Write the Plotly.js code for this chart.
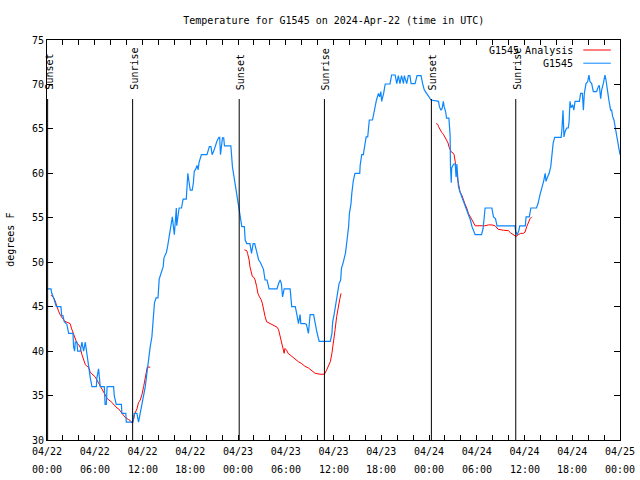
<!DOCTYPE html>
<html>
<head>
<meta charset="utf-8">
<script src="https://cdn.plot.ly/plotly-3.0.1.min.js"></script>
<style>html,body{margin:0;padding:0;background:#fff;}#chart{width:640px;height:480px;}</style>
</head>
<body>
<div id="chart"></div>
<script>
// Hours since 2024-04-22 00:00 UTC
const blueT = [0.0,0.5,0.6,0.83,1.17,1.75,1.85,2.0,2.17,2.5,2.72,3.26,3.34,3.47,3.55,3.76,3.85,4.18,4.39,4.6,4.81,5.02,5.23,5.44,5.65,6.2,6.27,6.48,6.69,7.2,7.3,7.45,7.55,8.37,8.45,8.7,9.35,9.41,9.9,9.96,10.8,10.96,11.15,11.3,11.5,11.72,11.93,12.14,12.35,12.55,12.76,12.97,13.18,13.3,13.5,13.7,13.95,14.1,14.3,14.6,14.7,15.0,15.15,15.3,15.5,15.65,15.75,16.0,16.1,16.25,16.3,16.45,16.6,16.9,17.1,17.5,17.6,17.7,17.85,18.0,18.25,18.4,18.5,18.7,18.85,19.0,19.1,19.25,19.4,20.1,20.4,20.6,20.75,20.95,21.1,21.35,21.6,21.7,21.8,21.95,22.05,22.2,22.3,23.1,23.3,23.5,23.7,23.85,24.06,24.27,24.48,24.8,24.9,25.1,25.5,25.7,25.9,26.1,26.4,26.6,26.8,27.0,27.2,27.4,27.65,27.9,28.9,29.1,29.3,29.45,29.6,29.8,30.55,30.75,31.2,31.4,31.6,31.8,31.9,32.4,32.6,32.85,32.95,33.06,33.5,33.7,33.9,34.2,35.6,35.8,35.9,36.1,36.3,36.5,36.7,36.9,37.0,37.2,37.5,37.7,37.9,38.0,38.2,38.3,38.5,38.7,39.3,39.35,39.55,39.75,39.9,40.1,40.3,40.5,40.9,41.1,41.3,41.4,41.65,41.8,41.95,42.05,42.3,42.5,43.1,43.3,43.75,43.95,44.15,44.35,44.55,44.8,44.9,45.2,45.4,45.6,45.75,46.25,46.5,47.0,47.2,47.4,47.7,48.0,48.26,49.2,49.3,49.5,49.65,49.8,49.9,50.1,50.2,50.5,50.65,50.7,50.8,50.85,51.1,51.3,51.4,51.5,51.7,51.9,52.1,52.3,52.5,52.7,52.95,53.2,53.4,53.6,53.8,54.6,54.8,55.05,55.9,56.1,56.35,56.55,58.8,58.9,59.1,59.3,59.4,60.1,60.2,60.6,60.8,61.5,61.7,61.95,62.2,62.4,62.6,62.7,62.9,63.1,63.3,63.45,63.6,63.8,64.6,64.7,64.84,64.96,65.1,65.3,65.5,65.6,65.72,65.84,66.05,66.2,66.35,66.9,67.05,67.27,67.4,67.52,67.73,67.93,68.1,68.23,68.44,68.65,69.06,69.27,69.4,69.57,69.7,69.9,70.11,70.24,70.32,70.45,70.6,70.82,70.95,71.07,71.24,71.5,71.66,71.83,72.0];
const blueV = [47,47,46.5,46,45,45,44,44,43.3,43,42,42,40.5,40,41,41,40,40,41,40,41,39.5,38,37,36,36,37,38,36,36,34,34,36,36,35,34,34,33,33,32,32,33,33,33,32,33,34,35,36,37.5,39.2,40.5,41.6,43.5,45.4,46,46,48.1,48.7,49.5,50.5,51.1,51.75,52.5,53.6,54.6,55.1,53.1,54.6,56.1,54.1,55.1,56.1,56.1,57.1,57.1,58.5,60,59,58.1,58.1,59,60.2,60.5,60.9,60.4,61.2,61.6,62.1,62.1,63,63,62.1,62.5,63,63.6,64.05,64.05,62.1,63.5,64,64,63.1,63.1,60.75,59.6,58.5,57.75,56.6,55.5,54,54,52.5,52.1,52.1,51,52.1,52.1,51,50.25,50,49.5,49.2,48,48,47,47,47.6,48,47.6,46.1,47,47,45,45,44.1,43.1,44.1,43.1,43.1,43,42,43.1,44.1,44.1,43.1,42.2,41.1,41.1,42,43.3,44.25,45.4,46.5,47.6,48,49.3,49.9,51,52.5,54,55.5,56.6,57.75,59.25,60,60,60.9,62.1,62.1,63.1,64.1,64.1,66,66,67.1,67.9,68.25,69,68.6,69.2,68.1,69,70.05,70.05,71.06,71.06,70.1,71,70.1,71,70.1,71,70.1,71,71,70.1,70.1,71,71,70.1,69.4,69,68.6,68.25,68.1,67.5,67.1,67.3,68.1,67.5,66.9,66.2,66.2,64.3,60.75,58.95,60.6,61.05,61.05,59.6,61.05,58.5,57.9,57.4,57,56.4,55.9,55.5,54.75,54,53.6,53.1,53.1,53.8,56.1,56.1,55.1,54.9,54.1,54.1,53.4,53.1,53.6,54.1,54.1,55.1,55.1,56.1,56.1,56.6,57.6,58.3,59.1,60,59.1,59.6,60,60.75,62.25,63.4,64.05,64.05,64.9,67.1,64.1,64.7,65.1,65.1,65.8,68.1,67.4,67.7,67.1,68.1,68.1,69,69,67.1,69,70.1,70.3,71.06,70.3,70.1,69.2,69.2,69.75,69.9,68.4,69.4,70.1,71.06,70.5,69.75,69.2,68.25,67.1,67.1,66.4,66,64.5,63.75,63,62.1];

const redT = [0.5,0.83,1.0,1.2,1.45,1.7,1.9,2.2,2.5,2.9,3.1,3.35,3.55,3.76,3.97,4.18,4.39,4.6,4.81,5.0,5.23,5.44,5.65,5.86,6.06,6.27,6.48,6.7,6.9,7.1,7.3,7.55,7.75,7.96,8.17,8.37,8.58,8.8,9.0,9.2,9.4,9.6,9.8,10.0,10.25,10.45,10.7,10.9,11.0,11.3,11.5,11.72,11.93,12.14,12.35,12.5,12.6,12.97,null,24.8,25.1,25.2,25.4,25.5,25.7,25.8,26.0,26.15,26.35,26.5,26.7,26.9,27.05,27.2,27.4,27.6,28.0,28.4,28.9,29.1,29.3,29.5,29.7,29.8,29.9,30.1,30.3,30.5,30.75,31.2,31.6,32.0,32.4,32.85,33.3,33.7,34.3,34.86,35.15,35.4,35.6,35.8,36.0,36.2,36.4,36.6,36.8,36.95,null,48.9,49.1,49.2,49.4,49.6,49.8,50.0,50.2,50.4,50.5,50.8,51.0,51.15,51.3,51.4,51.55,51.7,51.9,52.1,52.3,52.5,52.74,52.95,53.2,53.4,53.6,53.8,54.4,55.0,55.5,55.9,56.3,56.7,57.35,57.97,58.26,58.6,58.93,59.23,59.52,59.86,60.07,60.28,60.5,60.7,60.9];
const redV = [46.3,46,45.7,45.1,44.5,44,43.7,43.4,43.25,43.1,42.5,41.8,41.3,40.9,40.75,40.4,39.6,38.9,38.5,38.3,38.2,37.6,37.4,37.3,37.1,36.75,36.4,36,35.8,35.4,35.1,34.7,34.5,34.4,34.2,34,33.8,33.6,33.5,33.3,33,32.8,32.55,32.4,32.3,32.2,31.9,32.4,32.9,33.5,34.2,34.5,35.1,36,36.9,37.6,38.2,38.2,null,51.4,51.3,51,50.25,49.5,48.9,48.4,48.3,48,47.25,46.5,46.1,45.8,45.4,44.6,43.9,43.3,43.1,42.9,42.7,42.4,41.6,40.9,39.9,39.75,40.3,40.1,39.75,39.6,39.4,39.1,38.8,38.6,38.3,38.1,37.8,37.5,37.4,37.4,37.9,38.4,38.8,39.75,40.9,42.4,43.9,45.2,45.9,46.5,null,65.6,65.5,65.25,64.9,64.6,64.4,64.1,63.75,63.4,63,62.4,62.3,62.1,61.3,60.2,59.6,58.7,57.9,57.6,57.2,56.6,56.1,55.5,55.1,54.75,54.4,54.1,54.1,54.1,54.2,54.2,54.1,53.7,53.6,53.55,53.3,53.1,52.9,53.1,53.25,53.25,53.4,54,54.6,54.9,55.1];

const sunT = [0.08, 10.76, 24.15, 34.86, 48.3, 58.9];
const sunLabels = ['Sunset','Sunrise','Sunset','Sunrise','Sunset','Sunrise'];

const tickVals = [0,6,12,18,24,30,36,42,48,54,60,66,72];
const tickDates = ['04/22','04/22','04/22','04/22','04/23','04/23','04/23','04/23','04/24','04/24','04/24','04/24','04/25'];
const tickTimes = ['00:00','06:00','12:00','18:00','00:00','06:00','12:00','18:00','00:00','06:00','12:00','18:00','00:00'];
const yTicks = [30,35,40,45,50,55,60,65,70,75];

const seriesNames = ['G1545 Analysis','G1545'];
const seriesColors = ['#ff0000','#0a86ff'];

const FONT = {family:'DejaVu Sans Mono, monospace', size:10, color:'#000'};

const traces = [
  {x: redT, y: redV, type:'scatter', mode:'lines', name: seriesNames[0], line:{color: seriesColors[0], width:1}, connectgaps:false},
  {x: blueT, y: blueV, type:'scatter', mode:'lines', name: seriesNames[1], line:{color: seriesColors[1], width:1.2}}
];

const shapes = [];
const annotations = [];
sunT.forEach((t,i)=>{
  shapes.push({type:'line', xref:'x', yref:'paper', x0:t, x1:t, y0:0, y1:0.8525, line:{color:'#000', width:1}});
  annotations.push({xref:'x', yref:'paper', x:t, y:0.87, xanchor:'center', yanchor:'bottom', xshift:1, text:sunLabels[i], textangle:-90, showarrow:false, font:FONT});
});
// second line of x tick labels
tickVals.forEach((t,i)=>{
  annotations.push({xref:'x', yref:'paper', x:t, y:0, xanchor:'center', yanchor:'middle', yshift:-29, text:tickTimes[i], showarrow:false, font:FONT});
});
// legend (gnuplot style: text then sample)
seriesNames.forEach((n,i)=>{
  const yp = 0.975 - i*0.033;
  annotations.push({xref:'paper', yref:'paper', x:0.921, y:yp, xanchor:'right', yanchor:'middle', text:n, showarrow:false, font:FONT});
  shapes.push({type:'line', xref:'paper', yref:'paper', x0:0.936, x1:0.984, y0:yp, y1:yp, line:{color: seriesColors[i], width:1}});
});
annotations.push({xref:'paper', yref:'paper', x:-0.065, y:0.5, xanchor:'center', yanchor:'middle', text:'degrees F', textangle:-90, showarrow:false, font:FONT});

const layout = {
  width:640, height:480,
  margin:{l:47, r:20, t:40, b:40},
  paper_bgcolor:'#fff', plot_bgcolor:'#fff',
  showlegend:false,
  font: FONT,
  title:{text:'Temperature for G1545 on 2024-Apr-22 (time in UTC)', font:FONT, x:0.5215, xanchor:'center', y:0.958, yanchor:'middle'},
  xaxis:{range:[0,72], tickvals:tickVals, ticktext:tickDates, ticks:'inside', ticklen:5, tickcolor:'#000', showgrid:false, zeroline:false,
         showline:true, linecolor:'#000', linewidth:1, mirror:'allticks', tickfont:FONT, ticklabelstandoff:2,
         minor:{dtick:2, tick0:0, ticks:'inside', ticklen:5, tickcolor:'#000', showgrid:false}},
  yaxis:{range:[30,75], tickvals:yTicks, ticks:'inside', ticklen:6, tickcolor:'#000', showgrid:false, zeroline:false,
         showline:true, linecolor:'#000', linewidth:1, mirror:'allticks', tickfont:FONT},
  shapes: shapes,
  annotations: annotations
};

Plotly.newPlot('chart', traces, layout, {displayModeBar:false, staticPlot:true});
</script>
</body>
</html>
